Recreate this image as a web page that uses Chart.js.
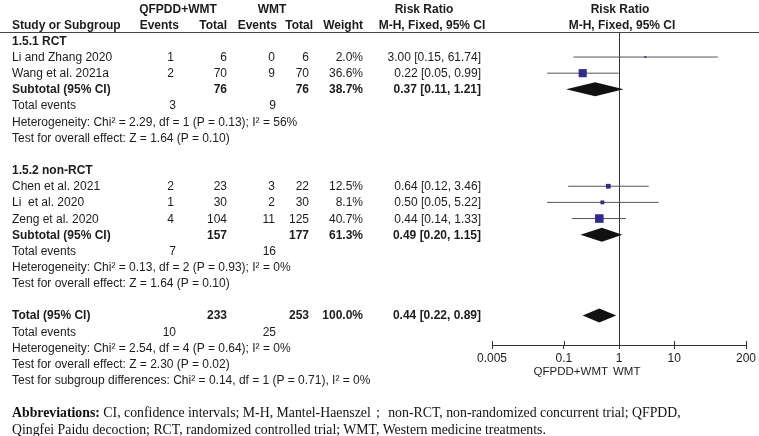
<!DOCTYPE html>
<html>
<head>
<meta charset="utf-8">
<script src="https://cdn.jsdelivr.net/npm/chart.js@4.4.1/dist/chart.umd.min.js"></script>
<style>
  html, body { margin: 0; padding: 0; background: #fff; }
  #wrap { position: relative; width: 759px; height: 436px; overflow: hidden;
          font-family: "Liberation Sans", Arial, sans-serif; font-size: 12px; color: #1c1c1c; }
  #plot { position: absolute; left: 0; top: 0; }
  .t { position: absolute; white-space: pre; line-height: 14px; height: 14px; }
  .b { font-weight: bold; }
  .sm { font-size: 11.5px; }
  #hline { position: absolute; left: 0; top: 32px; width: 759px; height: 1px; background: #444; }
  #notes { position: absolute; left: 12px; top: 404px; font-family: "Liberation Serif", "Times New Roman", serif;
           font-size: 13.8px; line-height: 17px; color: #111; white-space: nowrap; }
</style>
</head>
<body>
<div id="wrap">
  <canvas id="plot" width="759" height="436"></canvas>
  <div id="hline"></div>
  <div id="notes">
    <div><b>Abbreviations:</b> CI, confidence intervals; M-H, Mantel-Haenszel； non-RCT, non-randomized concurrent trial; QFPDD,</div>
    <div>Qingfei Paidu decoction; RCT, randomized controlled trial; WMT, Western medicine treatments.</div>
  </div>
</div>
<script>
/* ===== DATA ===== */
const groupNames = ["1.5.1 RCT", "1.5.2 non-RCT"];

const studyNames = ["Li and Zhang 2020", "Wang et al. 2021a", "Chen et al. 2021", "Li  et al. 2020", "Zeng et al. 2020"];
const studyGroup = [0, 0, 1, 1, 1];
const expEvents = [1, 2, 2, 1, 4];
const expTotal = [6, 70, 23, 30, 104];
const ctlEvents = [0, 9, 3, 2, 11];
const ctlTotal = [6, 70, 22, 30, 125];
const weights = [2.0, 36.6, 12.5, 8.1, 40.7];
const rrEst = [3.00, 0.22, 0.64, 0.50, 0.44];
const rrLow = [0.15, 0.05, 0.12, 0.05, 0.14];
const rrHigh = [61.74, 0.99, 3.46, 5.22, 1.33];

const subExpTotal = [76, 157];
const subCtlTotal = [76, 177];
const subWeight = [38.7, 61.3];
const subEst = [0.37, 0.49];
const subLow = [0.11, 0.20];
const subHigh = [1.21, 1.15];
const subExpEvents = [3, 7];
const subCtlEvents = [9, 16];
const subHet = ["Heterogeneity: Chi² = 2.29, df = 1 (P = 0.13); I² = 56%", "Heterogeneity: Chi² = 0.13, df = 2 (P = 0.93); I² = 0%"];
const subTest = ["Test for overall effect: Z = 1.64 (P = 0.10)", "Test for overall effect: Z = 1.64 (P = 0.10)"];

const totExpTotal = 233;
const totCtlTotal = 253;
const totWeight = 100.0;
const totEst = 0.44;
const totLow = 0.22;
const totHigh = 0.89;
const totExpEvents = 10;
const totCtlEvents = 25;
const totHet = "Heterogeneity: Chi² = 2.54, df = 4 (P = 0.64); I² = 0%";
const totTest = "Test for overall effect: Z = 2.30 (P = 0.02)";
const subgroupDiff = "Test for subgroup differences: Chi² = 0.14, df = 1 (P = 0.71), I² = 0%";

const tickValues = [0.005, 0.1, 1, 10, 200];
const tickLabels = ["0.005", "0.1", "1", "10", "200"];
const favourLeft = "QFPDD+WMT";
const favourRight = "WMT";

/* ===== BUILD ROWS ===== */
const fmt = (v) => v.toFixed(2);
const ci = (e, l, h) => fmt(e) + " [" + fmt(l) + ", " + fmt(h) + "]";

const lines = [];
let r = -1;
groupNames.forEach((g, gi) => {
  lines.push({ r: r++, kind: "group", label: g });
  studyNames.forEach((s, i) => {
    if (studyGroup[i] === gi) lines.push({ r: r++, kind: "study", i: i });
  });
  lines.push({ r: r++, kind: "sub", gi: gi });
  lines.push({ r: r++, kind: "events", ev1: subExpEvents[gi], ev2: subCtlEvents[gi] });
  lines.push({ r: r++, kind: "note", text: subHet[gi] });
  lines.push({ r: r++, kind: "note", text: subTest[gi] });
  r++;
});
lines.push({ r: r++, kind: "total" });
lines.push({ r: r++, kind: "events", ev1: totExpEvents, ev2: totCtlEvents });
lines.push({ r: r++, kind: "note", text: totHet });
lines.push({ r: r++, kind: "note", text: totTest });
lines.push({ r: r++, kind: "note", text: subgroupDiff });

const studyLines = lines.filter((l) => l.kind === "study");
const diamonds = [];
lines.forEach((l) => {
  if (l.kind === "sub") diamonds.push({ r: l.r, est: subEst[l.gi], lo: subLow[l.gi], hi: subHigh[l.gi] });
  if (l.kind === "total") diamonds.push({ r: l.r, est: totEst, lo: totLow, hi: totHigh });
});

/* ===== CHART ===== */
const datasets = [
  {
    label: "RR",
    data: studyLines.map((l) => ({ x: rrEst[l.i], y: l.r })),
    pointStyle: "rect",
    pointRadius: studyLines.map((l) => Math.max(1.3, 0.95 * Math.sqrt(weights[l.i]))),
    backgroundColor: "#2f2c8f",
    borderWidth: 0,
    showLine: false,
  },
];
studyLines.forEach((l) => {
  datasets.push({
    label: studyNames[l.i],
    data: [{ x: rrLow[l.i], y: l.r }, { x: rrHigh[l.i], y: l.r }],
    showLine: true,
    pointRadius: 0,
    borderColor: "#555",
    borderWidth: 1,
  });
});

const extras = {
  id: "extras",
  afterDatasetsDraw(chart) {
    const { ctx, scales: { x, y }, chartArea } = chart;
    ctx.save();
    ctx.fillStyle = "#111";
    diamonds.forEach((d) => {
      const py = y.getPixelForValue(d.r);
      ctx.beginPath();
      ctx.moveTo(x.getPixelForValue(d.lo), py);
      ctx.lineTo(x.getPixelForValue(d.est), py - 7);
      ctx.lineTo(x.getPixelForValue(d.hi), py);
      ctx.lineTo(x.getPixelForValue(d.est), py + 7);
      ctx.closePath();
      ctx.fill();
    });
    // small tick marks above the axis line
    ctx.strokeStyle = "#333";
    ctx.lineWidth = 1;
    tickValues.forEach((v) => {
      const px = Math.round(x.getPixelForValue(v)) + 0.5;
      ctx.beginPath();
      ctx.moveTo(px, chartArea.bottom - 4);
      ctx.lineTo(px, chartArea.bottom);
      ctx.stroke();
    });
    ctx.restore();
  },
};

const chart = new Chart(document.getElementById("plot"), {
  type: "scatter",
  data: { datasets: datasets },
  plugins: [extras],
  options: {
    responsive: false,
    animation: false,
    layout: { padding: { left: 492, right: 13, top: 32, bottom: 71 } },
    plugins: { legend: { display: false }, tooltip: { enabled: false } },
    scales: {
      x: {
        type: "logarithmic",
        min: 0.005,
        max: 200,
        bounds: "data",
        afterBuildTicks: (s) => { s.ticks = tickValues.map((v) => ({ value: v })); },
        afterFit: (s) => { s.height = 20; },
        ticks: {
          autoSkip: false,
          maxRotation: 0,
          padding: 2,
          color: "#1c1c1c",
          font: { family: "'Liberation Sans', Arial, sans-serif", size: 12 },
          callback: (v, i) => tickLabels[i],
        },
        grid: {
          drawOnChartArea: true,
          drawTicks: true,
          tickLength: 4,
          tickColor: "#333",
          color: (c) => (c.tick && c.tick.value === 1 ? "#333" : "rgba(0,0,0,0)"),
        },
        border: { display: true, color: "#333", width: 1 },
      },
      y: {
        type: "linear",
        display: false,
        reverse: true,
        min: -1.55,
        max: 17.83,
      },
    },
  },
});

/* ===== TABLE TEXT ===== */
const wrap = document.getElementById("wrap");
const ys = chart.scales.y;
const one = chart.scales.x.getPixelForValue(1);

function cell(text, x, py, align, bold, extra) {
  const d = document.createElement("div");
  d.className = "t" + (bold ? " b" : "") + (extra ? " " + extra : "");
  d.textContent = text;
  d.style.top = py - 7 + "px";
  if (align === "r") { d.style.left = x - 300 + "px"; d.style.width = "300px"; d.style.textAlign = "right"; }
  else if (align === "c") { d.style.left = x - 150 + "px"; d.style.width = "300px"; d.style.textAlign = "center"; }
  else d.style.left = x + "px";
  wrap.appendChild(d);
}

const colEv1 = 174, colN1 = 227, colEv2 = 275, colN2 = 309, colW = 363, colRR = 481;

// headers
const h1 = ys.getPixelForValue(-3), h2 = ys.getPixelForValue(-2);
cell("QFPDD+WMT", 178, h1, "c", true);
cell("WMT", 272, h1, "c", true);
cell("Risk Ratio", 424, h1, "c", true);
cell("Risk Ratio", one + 1, h1, "c", true);
cell("Study or Subgroup", 12, h2, "l", true);
cell("Events", 179, h2, "r", true);
cell("Total", 227, h2, "r", true);
cell("Events", 277, h2, "r", true);
cell("Total", 313, h2, "r", true);
cell("Weight", 363, h2, "r", true);
cell("M-H, Fixed, 95% CI", 432, h2, "c", true);
cell("M-H, Fixed, 95% CI", one + 3, h2, "c", true);

lines.forEach((l) => {
  const py = ys.getPixelForValue(l.r);
  if (l.kind === "group") cell(l.label, 12, py, "l", true);
  if (l.kind === "study") {
    const i = l.i;
    cell(studyNames[i], 12, py, "l", false);
    cell(String(expEvents[i]), colEv1, py, "r", false);
    cell(String(expTotal[i]), colN1, py, "r", false);
    cell(String(ctlEvents[i]), colEv2, py, "r", false);
    cell(String(ctlTotal[i]), colN2, py, "r", false);
    cell(weights[i].toFixed(1) + "%", colW, py, "r", false);
    cell(ci(rrEst[i], rrLow[i], rrHigh[i]), colRR, py, "r", false);
  }
  if (l.kind === "sub") {
    const g = l.gi;
    cell("Subtotal (95% CI)", 12, py, "l", true);
    cell(String(subExpTotal[g]), colN1, py, "r", true);
    cell(String(subCtlTotal[g]), colN2, py, "r", true);
    cell(subWeight[g].toFixed(1) + "%", colW, py, "r", true);
    cell(ci(subEst[g], subLow[g], subHigh[g]), colRR, py, "r", true);
  }
  if (l.kind === "total") {
    cell("Total (95% CI)", 12, py, "l", true);
    cell(String(totExpTotal), colN1, py, "r", true);
    cell(String(totCtlTotal), colN2, py, "r", true);
    cell(totWeight.toFixed(1) + "%", colW, py, "r", true);
    cell(ci(totEst, totLow, totHigh), colRR, py, "r", true);
  }
  if (l.kind === "events") {
    cell("Total events", 12, py, "l", false);
    cell(String(l.ev1), colEv1 + 2, py, "r", false);
    cell(String(l.ev2), colEv2 + 1, py, "r", false);
  }
  if (l.kind === "note") cell(l.text, 12, py, "l", false);
});

// favour labels under the axis
cell(favourLeft, one - 11, 371, "r", false, "sm");
cell(favourRight, one - 6, 371, "l", false, "sm");
</script>
</body>
</html>
